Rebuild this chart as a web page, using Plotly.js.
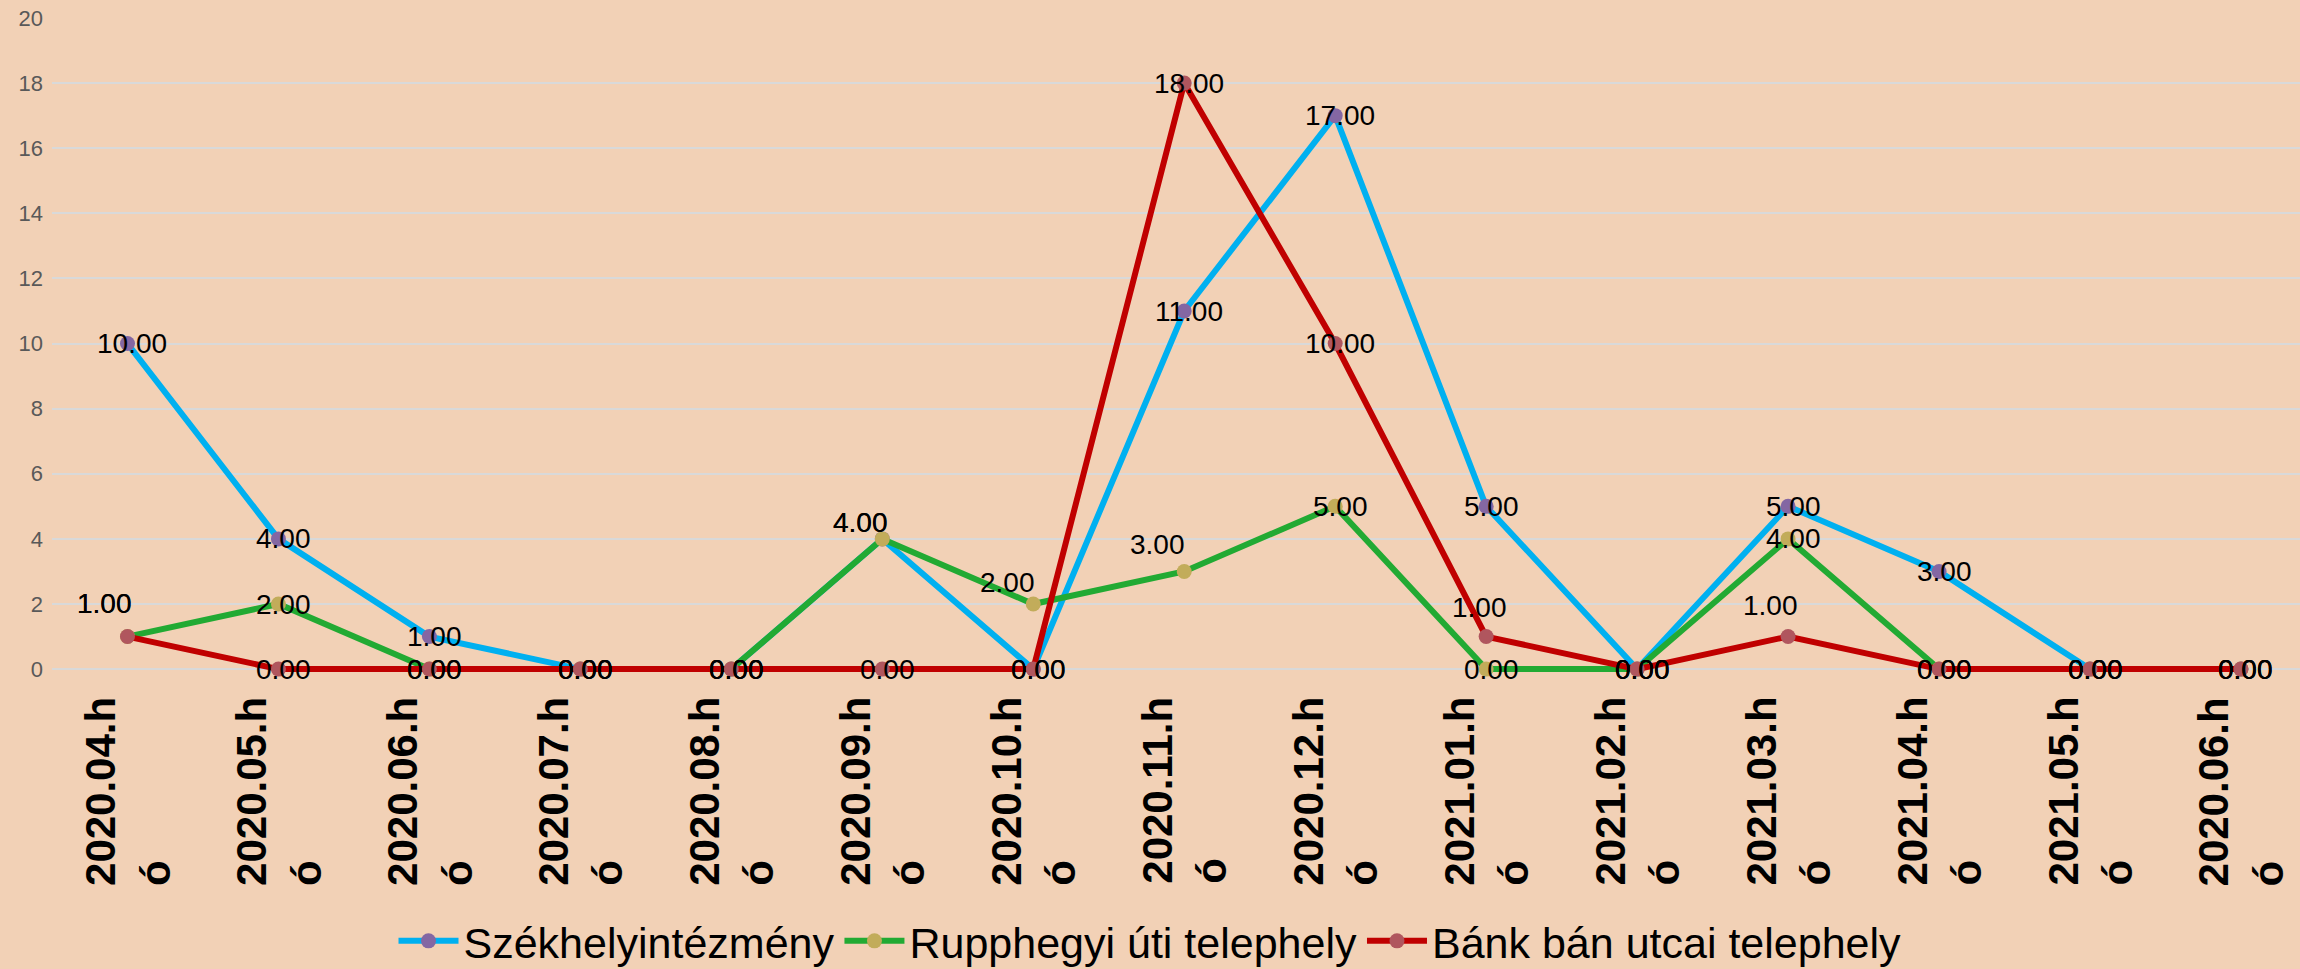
<!DOCTYPE html>
<html><head><meta charset="utf-8">
<script src="https://cdn.plot.ly/plotly-3.0.1.min.js"></script>
<style>html,body{margin:0;padding:0;background:#F2D1B6;} #chart{width:2300px;height:969px;}</style>
</head><body><div id="chart"></div>
<script>
// ---- data ----
const categories = ["2020.04.hó","2020.05.hó","2020.06.hó","2020.07.hó","2020.08.hó","2020.09.hó","2020.10.hó","2020.11.hó","2020.12.hó","2021.01.hó","2021.02.hó","2021.03.hó","2021.04.hó","2021.05.hó","2020.06.hó"];
const seriesNames = ["Székhelyintézmény","Rupphegyi úti telephely","Bánk bán utcai telephely"];
const szekhely  = [10,4,1,0,0,4,0,11,17,5,0,5,3,0,0];
const rupphegyi = [1,2,0,0,0,4,2,3,5,0,0,4,0,0,0];
const bankban   = [1,0,0,0,0,0,0,18,10,1,0,1,0,0,0];
const yTickVals = [0,2,4,6,8,10,12,14,16,18,20];

// ---- styles ----
const BG = "#F2D1B6";
const FONT = '"Liberation Sans", Arial, sans-serif';
const lineColors   = ["#00B0F0","#22AA33","#C00000"];
const markerColors = ["#8467A3","#C2AC5A","#B0565E"];
// per-point data-label shifts [dx, dy] in px (default: centered)
const labelShift = [
  {5:[-22,-16]},
  {0:[-23,-33],5:[-22,-16],6:[-26,-22],7:[-27,-27]},
  {0:[-23,-33],9:[-7,-29],11:[-18,-31]}
];

const seriesValues = [szekhely, rupphegyi, bankban];
const xs = categories.map((c, i) => i);

const traces = seriesValues.map((vals, s) => ({
  type: "scatter", mode: "lines+markers",
  name: seriesNames[s], x: xs, y: vals,
  line: {color: lineColors[s], width: 6},
  marker: {color: markerColors[s], size: 15, line: {width: 0}},
  cliponaxis: false, hoverinfo: "skip"
}));

const annotations = [];
seriesValues.forEach((vals, s) => {
  vals.forEach((v, i) => {
    const sh = labelShift[s][i] || [5, 0];
    annotations.push({
      x: i, y: v, xref: "x", yref: "y", text: v.toFixed(2), showarrow: false,
      xanchor: "center", yanchor: "middle", xshift: sh[0], yshift: -sh[1],
      font: {family: FONT, size: 28, color: "#000000"}
    });
  });
});
categories.forEach((c, i) => {
  annotations.push({
    x: i, y: 0, xref: "x", yref: "paper",
    text: c.slice(0, -1) + "<br>" + c.slice(-1),
    textangle: -90, align: "left", showarrow: false,
    xanchor: "center", yanchor: "top", yshift: -21,
    font: {family: FONT, size: 42, color: "#000000", weight: "bold"}
  });
});

const layout = {
  width: 2300, height: 969,
  margin: {l: 52, r: 0, t: 18, b: 295, pad: 0},
  paper_bgcolor: BG, plot_bgcolor: BG,
  font: {family: FONT},
  xaxis: {range: [-0.5, 14.391], showgrid: false, zeroline: false, showline: false,
          showticklabels: false, ticks: "", fixedrange: true},
  yaxis: {range: [-0.15, 20], tickmode: "array", tickvals: yTickVals,
          showgrid: true, gridcolor: "#D9D9D9", gridwidth: 2,
          zeroline: false, showline: false, ticks: "",
          tickfont: {family: FONT, size: 22, color: "#595959"},
          ticklabelstandoff: 8, fixedrange: true},
  showlegend: true,
  legend: {orientation: "h", xref: "container", x: 0.5, xanchor: "center",
           yref: "container", y: 0.029, yanchor: "middle",
           font: {family: FONT, size: 43, color: "#000000"},
           bgcolor: "rgba(0,0,0,0)", itemwidth: 60, traceorder: "normal"},
  annotations: annotations
};

Plotly.newPlot("chart", traces, layout, {displayModeBar: false, staticPlot: true});
</script>
</body></html>
